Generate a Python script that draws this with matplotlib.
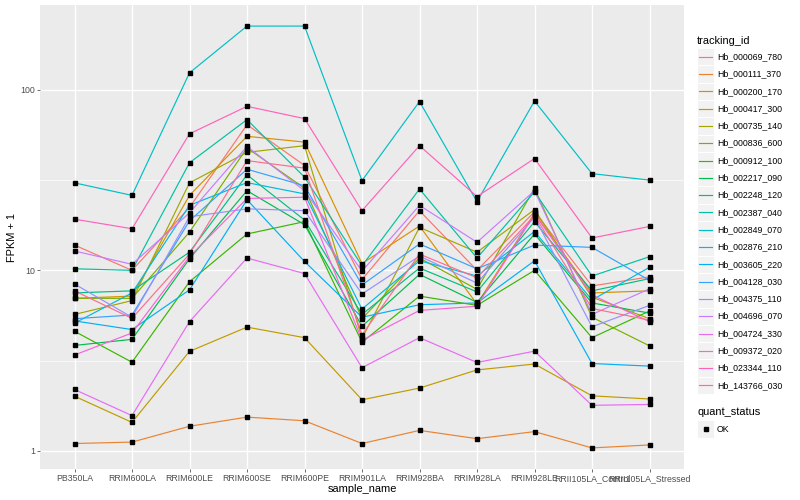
import numpy as np
import matplotlib.pyplot as plt
from matplotlib.lines import Line2D
from matplotlib.patches import Rectangle
from matplotlib.ticker import FixedLocator, FixedFormatter, NullLocator

plt.rcParams['font.family'] = ['Liberation Sans', 'DejaVu Sans']

samples = ['PB350LA', 'RRIM600LA', 'RRIM600LE', 'RRIM600SE', 'RRIM600PE',
           'RRIM901LA', 'RRIM928BA', 'RRIM928LA', 'RRIM928LE',
           'RRII105LA_Control', 'RRII105LA_Stressed']

tracking_ids = ['Hb_000069_780', 'Hb_000111_370', 'Hb_000200_170', 'Hb_000417_300',
                'Hb_000735_140', 'Hb_000836_600', 'Hb_000912_100', 'Hb_002217_090',
                'Hb_002248_120', 'Hb_002387_040', 'Hb_002849_070', 'Hb_002876_210',
                'Hb_003605_220', 'Hb_004128_030', 'Hb_004375_110', 'Hb_004696_070',
                'Hb_004724_330', 'Hb_009372_020', 'Hb_023344_110', 'Hb_143766_030']

# FPKM + 1, one row per tracking_id, one value per sample
fpkm_plus1 = [
    [13.8, 10.0, 22.3, 64.0, 38.1, 8.9, 21.4, 10.0, 21.1, 8.2, 9.2],
    [1.10, 1.12, 1.37, 1.54, 1.47, 1.10, 1.30, 1.17, 1.28, 1.04, 1.08],
    [7.0, 7.2, 26.0, 55.2, 51.3, 10.9, 17.6, 6.5, 20.7, 7.5, 7.7],
    [2.01, 1.44, 3.56, 4.85, 4.24, 1.92, 2.23, 2.81, 3.03, 2.02, 1.94],
    [5.7, 6.8, 30.5, 45.0, 49.0, 4.2, 17.3, 12.6, 21.7, 7.1, 5.4],
    [7.0, 7.0, 16.3, 47.6, 28.5, 5.4, 11.7, 7.85, 28.5, 5.5, 3.82],
    [4.6, 3.1, 8.65, 15.9, 18.6, 4.0, 7.2, 6.4, 10.0, 4.24, 5.95],
    [3.84, 4.15, 11.6, 27.6, 17.9, 4.9, 9.5, 6.65, 15.9, 6.6, 5.8],
    [7.5, 7.7, 12.6, 33.8, 19.0, 5.7, 10.3, 7.6, 18.6, 7.7, 9.0],
    [10.2, 10.0, 39.4, 68.3, 32.8, 10.6, 28.2, 11.7, 27.2, 9.3, 11.9],
    [30.5, 26.0, 124.0, 225.0, 225.0, 31.4, 86.0, 24.0, 86.6, 34.3, 31.6],
    [5.1, 7.5, 22.9, 30.6, 26.5, 6.1, 11.3, 9.3, 16.4, 6.85, 10.4],
    [5.25, 4.7, 7.8, 24.6, 11.2, 5.5, 6.45, 6.6, 11.3, 3.05, 2.95],
    [5.4, 5.66, 18.8, 36.3, 29.4, 8.3, 14.0, 10.2, 13.8, 13.4, 8.8],
    [8.4, 5.5, 19.8, 21.9, 21.4, 7.4, 12.0, 8.5, 19.7, 4.87, 6.4],
    [12.8, 10.8, 20.8, 48.5, 27.6, 9.9, 22.9, 14.3, 27.6, 5.7, 7.9],
    [2.19, 1.57, 5.2, 11.7, 9.6, 2.89, 4.24, 3.09, 3.57, 1.79, 1.81],
    [3.4, 4.5, 11.9, 25.0, 25.4, 4.1, 6.0, 6.33, 20.5, 7.3, 5.2],
    [19.2, 17.0, 57.0, 80.9, 69.2, 21.4, 49.0, 25.6, 41.6, 15.1, 17.5],
    [7.7, 5.42, 12.3, 40.5, 36.8, 4.4, 12.3, 9.1, 20.1, 6.15, 5.3],
]

quant_status = ['OK']

# ggplot2 default hue palette for 20 levels
colors = ['#F8766D', '#EA8331', '#D89000', '#C09B00', '#A3A500', '#7CAE00',
          '#39B600', '#00BB4E', '#00BF7D', '#00C1A3', '#00BFC4', '#00BAE0',
          '#00B0F6', '#35A2FF', '#9590FF', '#C77CFF', '#E76BF3', '#FA62DB',
          '#FF62BC', '#FF6C91']

W, H = 800, 500
fig = plt.figure(figsize=(8, 5), dpi=100)
fig.patch.set_facecolor('white')

# panel in pixel coords
pl, pr, pt, pb = 40, 684, 5, 469
ax = fig.add_axes([pl / W, 1 - pb / H, (pr - pl) / W, (pb - pt) / H])
ax.set_facecolor('#EBEBEB')
for s in ax.spines.values():
    s.set_visible(False)

x = np.arange(len(samples))
for vals, c in zip(fpkm_plus1, colors):
    ax.plot(x, vals, color=c, lw=0.85, zorder=2, solid_capstyle='butt')
for vals in fpkm_plus1:
    ax.plot(x, vals, ls='none', marker='s', ms=2.2, color='black', zorder=3)

ax.set_yscale('log')
allv = np.log10(np.array(fpkm_plus1))
lo, hi = allv.min(), allv.max()
pad = 0.05 * (hi - lo)
ax.set_ylim(10 ** (lo - pad), 10 ** (hi + pad))
ax.set_xlim(-0.6, len(samples) - 0.4)

ax.yaxis.set_major_locator(FixedLocator([1, 10, 100]))
ax.yaxis.set_major_formatter(FixedFormatter(['1', '10', '100']))
ax.yaxis.set_minor_locator(FixedLocator([10 ** 0.5, 10 ** 1.5]))
ax.xaxis.set_major_locator(FixedLocator(x))
ax.xaxis.set_major_formatter(FixedFormatter(samples))
ax.xaxis.set_minor_locator(NullLocator())

ax.grid(which='major', color='white', lw=1.0, zorder=0)
ax.grid(which='minor', axis='y', color='white', lw=0.5, zorder=0)
ax.set_axisbelow(True)

ax.tick_params(which='major', length=2.0, width=0.5, color='#333333',
               labelcolor='#4D4D4D', labelsize=6.3, pad=1.6)
ax.tick_params(which='minor', length=0)

# axis titles
fig.text((pl + pr) / 2 / W, 1 - 489 / H, 'sample_name', ha='center', va='center',
         fontsize=7.9, color='black')
fig.text(12 / W, 1 - (pt + pb) / 2 / H, 'FPKM + 1', ha='center', va='center',
         rotation=90, fontsize=7.9, color='black')

# legend: tracking_id
kx0, kw, kh = 697, 17, 17.3
fig.text(kx0 / W, 1 - 40.5 / H, 'tracking_id', ha='left', va='center',
         fontsize=7.9, color='black')
for i, (tid, c) in enumerate(zip(tracking_ids, colors)):
    yc = 56.7 + kh * i
    fig.patches.append(Rectangle((kx0 / W, 1 - (yc + kh / 2) / H), kw / W, kh / H,
                                 transform=fig.transFigure, facecolor='#F2F2F2',
                                 edgecolor='white', lw=0.7))
    fig.lines.append(Line2D([(kx0 + 2) / W, (kx0 + kw - 2) / W],
                            [1 - yc / H, 1 - yc / H], transform=fig.transFigure,
                            color=c, lw=0.85))
    fig.text((kx0 + kw + 3) / W, 1 - yc / H, tid, ha='left', va='center',
             fontsize=6.3, color='black')

# legend: quant_status
fig.text(kx0 / W, 1 - 412 / H, 'quant_status', ha='left', va='center',
         fontsize=7.9, color='black')
for j, q in enumerate(quant_status):
    yc = 429 + kh * j
    fig.patches.append(Rectangle((kx0 / W, 1 - (yc + kh / 2) / H), kw / W, kh / H,
                                 transform=fig.transFigure, facecolor='#F2F2F2',
                                 edgecolor='white', lw=0.7))
    fig.lines.append(Line2D([(kx0 + kw / 2) / W], [1 - yc / H], transform=fig.transFigure,
                            ls='none', marker='s', ms=2.2, color='black'))
    fig.text((kx0 + kw + 3) / W, 1 - yc / H, q, ha='left', va='center',
             fontsize=6.3, color='black')

fig.savefig('out.png', dpi=100)
